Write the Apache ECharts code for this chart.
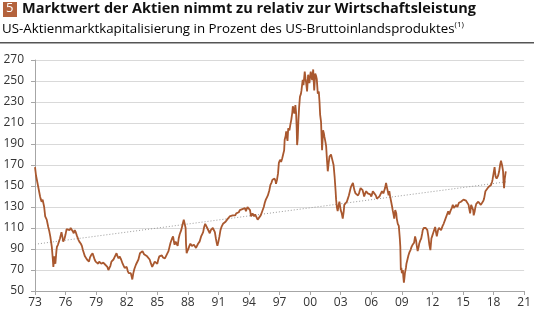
<!DOCTYPE html>
<html><head><meta charset="utf-8">
<script src="https://cdn.jsdelivr.net/npm/echarts@6/dist/echarts.min.js"></script>
<style>html,body{margin:0;padding:0;background:#fff}#c{width:534px;height:313px}</style>
</head><body><div id="c"></div>
<script>
// decimal years and market cap / GDP (%)
const dates = [
1973.00,1973.10,1973.20,1973.30,1973.40,1973.50,1973.55,1973.65,1973.75,1973.85,1973.90,1974.00,1974.15,1974.30,1974.40,1974.50,1974.65,1974.75,1974.80,1974.85,1974.90,1974.95,
1975.00,1975.10,1975.15,1975.25,1975.35,1975.45,1975.60,1975.70,1975.77,1975.90,1976.00,1976.10,1976.25,1976.40,1976.50,1976.60,1976.70,1976.80,1976.90,
1977.00,1977.10,1977.25,1977.35,1977.50,1977.60,1977.70,1977.80,1977.90,1978.00,1978.10,1978.20,1978.30,1978.40,1978.50,1978.65,1978.75,1978.85,1978.95,
1979.10,1979.20,1979.30,1979.40,1979.50,1979.60,1979.70,1979.80,1979.90,1980.00,1980.10,1980.20,1980.30,1980.40,1980.50,1980.60,1980.70,1980.80,1980.90,
1981.00,1981.10,1981.20,1981.30,1981.45,1981.60,1981.70,1981.80,1981.90,1982.00,1982.10,1982.20,1982.30,1982.40,1982.50,1982.55,1982.65,1982.75,1982.90,
1983.00,1983.15,1983.30,1983.45,1983.55,1983.70,1983.85,1984.00,1984.15,1984.25,1984.35,1984.50,1984.60,1984.75,1984.90,
1985.00,1985.10,1985.20,1985.35,1985.45,1985.55,1985.65,1985.75,1985.85,1986.00,1986.10,1986.20,1986.30,1986.45,1986.55,1986.65,1986.70,1986.80,1986.90,
1987.00,1987.10,1987.20,1987.35,1987.50,1987.60,1987.70,1987.78,1987.82,1987.88,1987.95,1988.05,1988.15,1988.25,1988.40,1988.50,1988.60,1988.70,1988.80,1988.90,
1989.00,1989.15,1989.30,1989.40,1989.50,1989.60,1989.70,1989.80,1989.90,1990.00,1990.15,1990.25,1990.35,1990.45,1990.55,1990.65,1990.75,1990.85,1990.90,
1991.00,1991.10,1991.20,1991.30,1991.45,1991.60,1991.70,1991.85,1992.00,1992.10,1992.25,1992.40,1992.55,1992.65,1992.75,1992.90,
1993.00,1993.10,1993.20,1993.35,1993.50,1993.60,1993.70,1993.85,1994.00,1994.10,1994.20,1994.35,1994.50,1994.60,1994.70,1994.85,
1995.00,1995.15,1995.30,1995.45,1995.55,1995.65,1995.75,1995.85,1996.00,1996.10,1996.20,1996.30,1996.40,1996.50,1996.60,1996.65,1996.75,1996.85,1996.93,
1997.05,1997.15,1997.25,1997.35,1997.45,1997.50,1997.60,1997.65,1997.72,1997.78,1997.85,1997.97,1998.05,1998.15,1998.25,1998.30,1998.40,1998.45,1998.55,1998.62,1998.68,1998.72,1998.78,1998.85,1998.92,
1999.00,1999.10,1999.15,1999.27,1999.35,1999.47,1999.55,1999.60,1999.70,1999.80,1999.87,1999.93,2000.00,2000.06,2000.15,2000.20,2000.30,2000.35,2000.40,2000.50,2000.58,2000.65,2000.75,2000.85,2000.92,2000.98,
2001.07,2001.12,2001.17,2001.27,2001.35,2001.40,2001.50,2001.57,2001.65,2001.73,2001.82,2001.90,2002.05,2002.10,2002.20,2002.30,2002.40,2002.50,2002.55,2002.62,2002.70,2002.80,2002.87,2002.95,
2003.00,2003.10,2003.20,2003.30,2003.35,2003.45,2003.60,2003.70,2003.80,2003.90,2004.00,2004.10,2004.20,2004.30,2004.35,2004.45,2004.50,2004.60,2004.70,2004.80,2004.85,2004.95,
2005.00,2005.10,2005.15,2005.25,2005.30,2005.40,2005.50,2005.60,2005.65,2005.75,2005.80,2005.90,2006.00,2006.10,2006.15,2006.25,2006.30,2006.40,2006.45,2006.55,2006.60,2006.70,2006.80,2006.90,2006.95,
2007.05,2007.10,2007.20,2007.25,2007.35,2007.45,2007.55,2007.62,2007.70,2007.77,2007.85,2007.95,2008.05,2008.10,2008.20,2008.25,2008.35,2008.45,2008.50,2008.60,2008.70,2008.75,2008.80,2008.85,2008.90,2008.95,
2009.00,2009.10,2009.15,2009.20,2009.25,2009.30,2009.40,2009.45,2009.55,2009.65,2009.75,2009.85,2009.95,2010.05,2010.15,2010.20,2010.30,2010.40,2010.45,2010.55,2010.65,2010.70,2010.80,2010.90,
2011.00,2011.05,2011.15,2011.20,2011.35,2011.50,2011.60,2011.70,2011.80,2011.90,2012.00,2012.10,2012.20,2012.27,2012.35,2012.43,2012.55,2012.65,2012.75,2012.85,2012.90,
2013.00,2013.10,2013.25,2013.40,2013.55,2013.65,2013.70,2013.80,2013.90,2014.00,2014.10,2014.20,2014.35,2014.45,2014.60,2014.70,2014.80,2014.95,
2015.05,2015.20,2015.30,2015.45,2015.55,2015.60,2015.70,2015.80,2015.90,2016.00,2016.05,2016.15,2016.20,2016.30,2016.40,2016.50,2016.60,2016.75,2016.85,2016.90,
2017.00,2017.07,2017.20,2017.35,2017.50,2017.60,2017.75,2017.85,2017.90,2018.00,2018.10,2018.15,2018.20,2018.30,2018.35,2018.45,2018.55,2018.64,2018.73,2018.78,2018.83,2018.90,2018.93,2018.97,
2019.03,2019.10,2019.20
];
const values = [
168,160,155,150,149,140,138,135,137,138,130,121,118,111,107,102,92,80,73,78,83,78,
76,88,92,94,97,100,106,101,97,100,104,109,110,108,110,109,107,105,108,
106,103,99,97,95,93,89,86,83,82,80,79,78,82,84,86,83,80,78,
77,76,78,78,76,75,77,76,75,74,73,70,69,74,78,79,80,82,83,
86,83,81,83,80,76,74,72,73,73,69,67,68,67,63,61,67,71,75,
76,80,86,87,88,85,84,83,82,80,77,73,74,78,77,
76,80,83,82,84,82,83,81,80,86,88,92,96,100,102,96,94,97,95,
93,100,104,108,114,118,119,110,95,86,88,90,93,95,93,92,94,93,91,92,
95,97,102,104,106,111,114,112,110,109,105,108,107,110,111,106,100,95,93,
97,102,108,111,114,115,116,118,119,121,120,122,121,122,124,123,
125,127,128,128,127,129,126,130,131,127,121,124,121,123,124,118,
118,122,126,130,134,137,139,141,146,151,153,156,155,157,155,152,156,162,172,
175,173,176,180,184,194,198,202,196,193,205,203,208,213,220,226,222,219,227,220,205,189,195,213,225,
235,238,241,251,246,259,252,249,240,256,250,248,255,259,253,251,261,250,241,257,255,252,238,240,230,218,
211,198,184,203,200,197,192,188,175,164,172,178,180,178,178,170,159,145,137,130,126,132,135,130,
127,124,119,126,132,133,135,138,141,145,149,151,153,148,146,143,143,142,141,143,145,148,
149,147,146,142,140,143,145,144,143,144,144,142,140,143,145,144,143,142,141,138,137,139,140,142,143,
145,146,143,145,148,153,148,145,141,145,140,135,130,127,122,119,127,124,119,114,112,111,100,92,70,72,
67,70,63,58,62,67,72,76,80,84,87,89,92,94,95,96,102,98,94,88,92,95,98,100,
105,108,110,111,110,108,102,94,89,100,103,106,109,111,106,102,108,110,111,108,108,
112,114,118,119,126,123,122,127,129,132,129,130,132,130,134,133,135,134,
137,138,136,137,132,129,124,132,132,127,122,126,129,133,134,135,134,132,133,132,
136,138,145,146,149,149,151,154,156,162,168,163,159,157,156,160,164,170,174,172,170,166,164,156,
148,157,164
];
// dotted trend line end points
const trendDates = [1973, 2019.25];
const trendValues = [94.5, 154];
// axis ticks
const xTicks = [1973,1976,1979,1982,1985,1988,1991,1994,1997,2000,2003,2006,2009,2012,2015,2018,2021];
const yTicks = [50,70,90,110,130,150,170,190,210,230,250,270];
const chartNumber = '5';
const titleText = 'Marktwert der Aktien nimmt zu relativ zur Wirtschaftsleistung';
const subtitleText = 'US-Aktienmarktkapitalisierung in Prozent des US-Bruttoinlandsproduktes';
const footnoteMark = '(1)';

const FONT = 'Open Sans';
const LINE = '#a9582f';
const chart = echarts.init(document.getElementById('c'), null, {renderer: 'canvas'});
chart.setOption({
  animation: false,
  backgroundColor: '#fff',
  grid: {left: 35, right: 9, top: 60, bottom: 22, containLabel: false},
  xAxis: {
    type: 'value', min: 1973, max: 2021,
    axisLine: {show: true, lineStyle: {color: '#a6a6a6', width: 1}},
    axisTick: {show: true, length: 4, lineStyle: {color: '#a6a6a6'}, customValues: xTicks},
    axisLabel: {customValues: xTicks, margin: 6, color: '#333', fontFamily: FONT, fontSize: 12,
      formatter: v => String(Math.round(v) % 100).padStart(2, '0')},
    splitLine: {show: false}
  },
  yAxis: {
    type: 'value', min: 50, max: 270,
    axisLine: {show: true, lineStyle: {color: '#a6a6a6', width: 1}},
    axisTick: {show: true, length: 4, lineStyle: {color: '#a6a6a6'}, customValues: yTicks},
    axisLabel: {customValues: yTicks, margin: 11, color: '#333', fontFamily: FONT, fontSize: 12},
    splitLine: {show: true, lineStyle: {color: '#d9d9d9', width: 1}}
  },
  series: [
    {type: 'line', data: trendDates.map((d, i) => [d, trendValues[i]]), showSymbol: false,
     lineStyle: {color: '#9a9a9a', width: 1, type: [1, 2]}, z: 1},
    {type: 'line', data: dates.map((d, i) => [d, values[i]]), showSymbol: false,
     lineStyle: {color: LINE, width: 1.8}, z: 2}
  ],
  graphic: [
    {type: 'rect', left: 3, top: 2, shape: {width: 14, height: 15}, style: {fill: '#b4623c'}},
    {type: 'text', left: 6, top: 2, style: {text: chartNumber, fill: '#fff', font: '13px "Open Sans"'}},
    {type: 'text', left: 22, top: 1, style: {text: titleText, fill: '#111', font: 'bold 14.5px "Open Sans"'}},
    {type: 'text', left: 2, top: 21, style: {
      text: '{a|' + subtitleText + '}{s|' + footnoteMark + '}',
      rich: {
        a: {fontFamily: FONT, fontSize: 13.3, color: '#222'},
        s: {fontFamily: FONT, fontSize: 8, color: '#222', verticalAlign: 'top', padding: [0, 0, 8, 0]}
      }}},
    {type: 'rect', left: 0, top: 42, shape: {width: 534, height: 1.5}, style: {fill: '#555'}}
  ]
});
</script></body></html>
